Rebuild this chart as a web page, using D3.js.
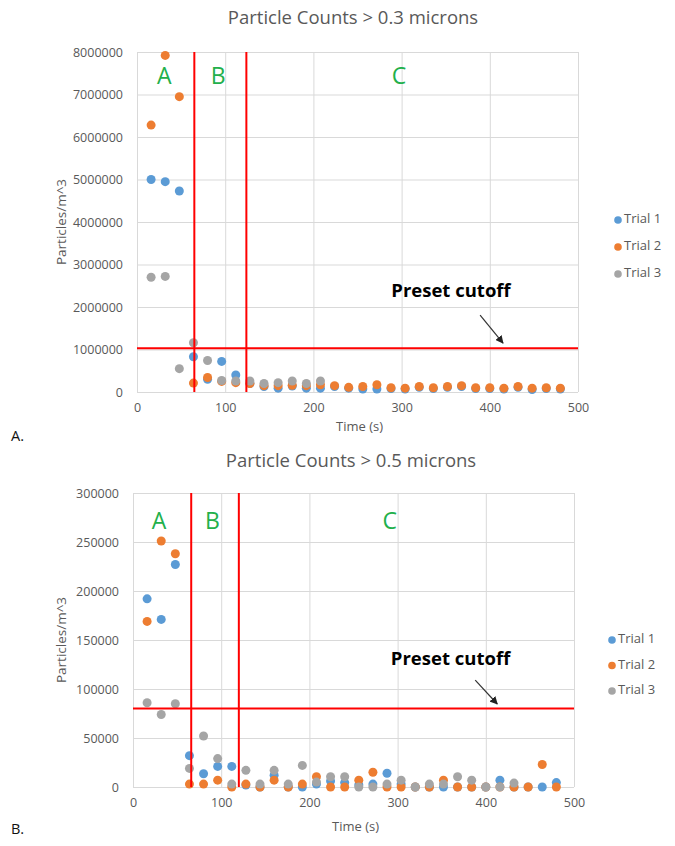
<!DOCTYPE html>
<html>
<head>
<meta charset="utf-8">
<script src="https://cdn.jsdelivr.net/npm/d3@7"></script>
<style>
  html, body { margin: 0; padding: 0; background: #ffffff; }
  svg { display: block; }
</style>
</head>
<body>
<svg id="chart" width="675" height="846"></svg>
<script>
// ---------- DATA ----------
const times = [16,32,48,64,80,96,112,128,144,160,176,192,208,224,240,256,272,288,304,320,336,352,368,384,400,416,432,448,464,480];
const seriesNames = ["Trial 1", "Trial 2", "Trial 3"];
const seriesColors = ["#5b9bd5", "#ed7d31", "#a5a5a5"];

// Chart A: > 0.3 microns
const topTrial1 = [5000000,4950000,4730000,830000,300000,720000,400000,200000,130000,90000,140000,90000,90000,130000,90000,70000,70000,80000,70000,110000,80000,110000,130000,80000,80000,70000,110000,60000,80000,70000];
const topTrial2 = [6280000,7920000,6950000,210000,340000,250000,220000,200000,150000,150000,160000,150000,170000,150000,110000,130000,170000,100000,90000,130000,100000,130000,150000,100000,100000,90000,130000,90000,100000,90000];
const topTrial3 = [2700000,2720000,550000,1160000,740000,270000,260000,260000,200000,220000,260000,200000,260000];
const topYTicks = [0,1000000,2000000,3000000,4000000,5000000,6000000,7000000,8000000];

// Chart B: > 0.5 microns
const botTrial1 = [192000,171000,227000,32000,13500,21000,21000,2000,0,12000,0,0,3000,6000,4500,2000,3000,14000,3000,0,0,0,0,0,0,7000,0,0,0,4500];
const botTrial2 = [169000,251000,238000,3000,3000,7000,0,3000,0,7000,0,3000,10500,0,0,7000,15000,0,0,0,0,7000,0,0,0,0,0,0,23000,0];
const botTrial3 = [86000,74000,85000,19000,52000,29000,3000,17000,3000,17000,3000,22000,5000,10500,10500,0,0,3000,7000,0,3000,3000,10500,7000,0,0,4000];
const botYTicks = [0,50000,100000,150000,200000,250000,300000];

const xTicks = [0,100,200,300,400,500];
const phaseLabels = ["A", "B", "C"];
const topPhaseX = [31, 92, 297];
const botPhaseX = [29.5, 90, 291];
const topDividers = [65, 124];
const botDividers = [66, 120];
const topCutoff = 1030000;
const botCutoff = 80000;

// ---------- DRAW ----------
const svg = d3.select("#chart");
const FONT = "'Open Sans', 'Noto Sans', sans-serif";
const TEXT_GREY = "#595959";

function drawChart(cfg) {
  const x = d3.scaleLinear().domain([0, 500]).range([cfg.left, cfg.right]);
  const y = d3.scaleLinear().domain([0, cfg.yMax]).range([cfg.bottom, cfg.top]);
  const g = svg.append("g");

  // title
  g.append("text").attr("x", cfg.titleX).attr("y", cfg.titleY)
    .attr("text-anchor", "middle").attr("dominant-baseline", "middle")
    .attr("font-family", FONT).attr("font-size", 18.5).attr("fill", TEXT_GREY)
    .text(cfg.title);

  // gridlines
  g.append("g").selectAll("line").data(cfg.yTicks).join("line")
    .attr("x1", cfg.left).attr("x2", cfg.right)
    .attr("y1", d => y(d) + 0.5).attr("y2", d => y(d) + 0.5)
    .attr("stroke", "#d9d9d9").attr("stroke-width", 1);
  g.append("g").selectAll("line").data(xTicks).join("line")
    .attr("x1", d => x(d) + 0.5).attr("x2", d => x(d) + 0.5)
    .attr("y1", cfg.top).attr("y2", cfg.bottom)
    .attr("stroke", "#d9d9d9").attr("stroke-width", 1);

  // axes labels
  const yAxis = d3.axisLeft(y).tickValues(cfg.yTicks).tickFormat(d3.format("d")).tickSize(0).tickPadding(14);
  const ya = g.append("g").attr("transform", `translate(${cfg.left},0)`).call(yAxis);
  ya.select(".domain").remove();
  ya.selectAll("text").attr("font-family", FONT).attr("font-size", 12.5).attr("fill", TEXT_GREY);

  const xAxis = d3.axisBottom(x).tickValues(xTicks).tickFormat(d3.format("d")).tickSize(0).tickPadding(11);
  const xa = g.append("g").attr("transform", `translate(0,${cfg.bottom})`).call(xAxis);
  xa.select(".domain").remove();
  xa.selectAll("text").attr("font-family", FONT).attr("font-size", 12.5).attr("fill", TEXT_GREY);

  // axis titles
  g.append("text").attr("x", (cfg.left + cfg.right) / 2 + 2).attr("y", cfg.xTitleY)
    .attr("text-anchor", "middle").attr("dominant-baseline", "middle")
    .attr("font-family", FONT).attr("font-size", 13).attr("fill", TEXT_GREY)
    .text("Time (s)");
  g.append("text")
    .attr("transform", `translate(${cfg.yTitleX},${(cfg.top + cfg.bottom) / 2}) rotate(-90)`)
    .attr("text-anchor", "middle").attr("dominant-baseline", "middle")
    .attr("font-family", FONT).attr("font-size", 13.5).attr("fill", TEXT_GREY)
    .text("Particles/m^3");

  // data points
  cfg.series.forEach((vals, i) => {
    g.append("g").selectAll("circle").data(vals).join("circle")
      .attr("cx", (d, j) => x(times[j]))
      .attr("cy", d => y(d))
      .attr("r", 4.5)
      .attr("fill", seriesColors[i]);
  });

  // red divider and cutoff lines
  g.append("g").selectAll("line").data(cfg.dividers).join("line")
    .attr("x1", d => x(d)).attr("x2", d => x(d))
    .attr("y1", cfg.top).attr("y2", cfg.bottom)
    .attr("stroke", "#ff0000").attr("stroke-width", 2);
  g.append("line")
    .attr("x1", cfg.left).attr("x2", cfg.right)
    .attr("y1", y(cfg.cutoff)).attr("y2", y(cfg.cutoff))
    .attr("stroke", "#ff0000").attr("stroke-width", 2);

  // phase labels
  g.append("g").selectAll("text").data(phaseLabels).join("text")
    .attr("x", (d, i) => x(cfg.phaseX[i])).attr("y", y(cfg.phaseY))
    .attr("text-anchor", "middle").attr("dominant-baseline", "middle")
    .attr("font-family", FONT).attr("font-size", 23).attr("fill", "#22b04b")
    .text(d => d);

  // preset cutoff annotation
  g.append("text").attr("x", x(cfg.noteX)).attr("y", y(cfg.noteY))
    .attr("text-anchor", "middle").attr("dominant-baseline", "middle")
    .attr("font-family", FONT).attr("font-weight", "bold").attr("font-size", 18.5).attr("fill", "#000")
    .text("Preset cutoff");
  g.append("line")
    .attr("x1", x(cfg.arrow[0])).attr("y1", y(cfg.arrow[1]))
    .attr("x2", x(cfg.arrow[2])).attr("y2", y(cfg.arrow[3]))
    .attr("stroke", "#333").attr("stroke-width", 1.2).attr("marker-end", "url(#arrowhead)");

  // legend
  const lg = g.append("g");
  seriesNames.forEach((name, i) => {
    lg.append("circle").attr("cx", cfg.legendX).attr("cy", cfg.legendY + i * cfg.legendGap)
      .attr("r", 3.8).attr("fill", seriesColors[i]);
    lg.append("text").attr("x", cfg.legendX + 6).attr("y", cfg.legendY + i * cfg.legendGap)
      .attr("dominant-baseline", "middle")
      .attr("font-family", FONT).attr("font-size", 13).attr("fill", TEXT_GREY)
      .text(name);
  });

  // panel letter
  g.append("text").attr("x", 11).attr("y", cfg.panelY)
    .attr("dominant-baseline", "middle")
    .attr("font-family", FONT).attr("font-size", 14.5).attr("fill", "#111")
    .text(cfg.panel);
}

const defs = svg.append("defs");
defs.append("marker").attr("id", "arrowhead").attr("viewBox", "0 0 10 10")
  .attr("refX", 9).attr("refY", 5).attr("markerWidth", 8).attr("markerHeight", 8)
  .attr("orient", "auto-start-reverse").attr("markerUnits", "userSpaceOnUse")
  .append("path").attr("d", "M0,0 L10,5 L0,10 z").attr("fill", "#222");

drawChart({
  title: "Particle Counts > 0.3 microns", titleX: 353, titleY: 19,
  left: 137, right: 578, top: 52, bottom: 392, yMax: 8000000, yTicks: topYTicks,
  xTitleY: 428, yTitleX: 62,
  series: [topTrial1, topTrial2, topTrial3],
  dividers: topDividers, cutoff: topCutoff,
  phaseX: topPhaseX, phaseY: 7390000,
  noteX: 356, noteY: 2350000, arrow: [389, 1810000, 415, 1150000],
  legendX: 618, legendY: 220, legendGap: 27,
  panel: "A.", panelY: 437
});

drawChart({
  title: "Particle Counts > 0.5 microns", titleX: 351, titleY: 462,
  left: 133, right: 574, top: 493, bottom: 787, yMax: 300000, yTicks: botYTicks,
  xTitleY: 828, yTitleX: 62,
  series: [botTrial1, botTrial2, botTrial3],
  dividers: botDividers, cutoff: botCutoff,
  phaseX: botPhaseX, phaseY: 270000,
  noteX: 360, noteY: 129600, arrow: [388, 109000, 413, 84700],
  legendX: 612, legendY: 640, legendGap: 25.5,
  panel: "B.", panelY: 830
});
</script>
</body>
</html>
